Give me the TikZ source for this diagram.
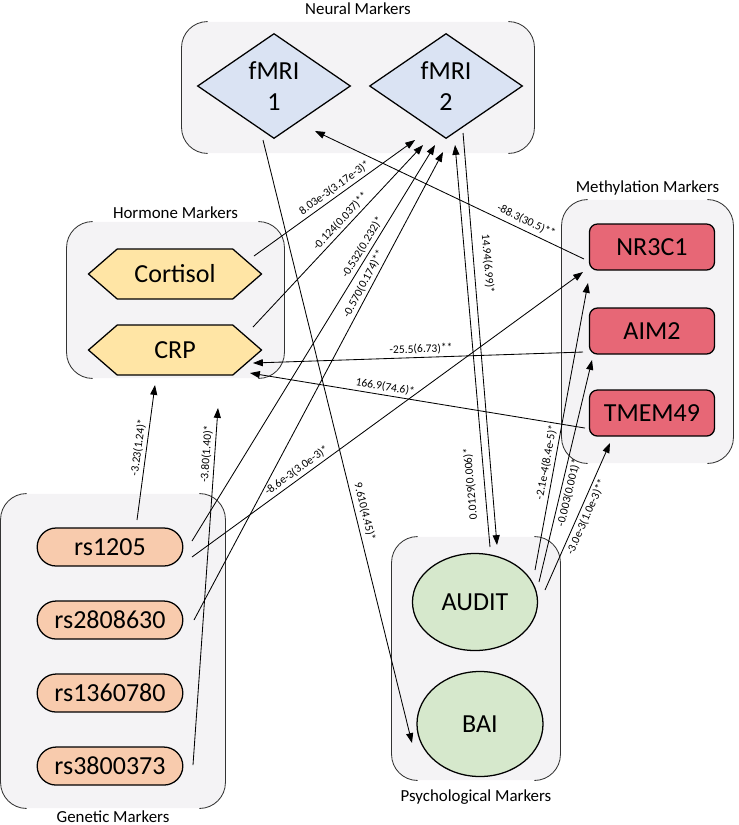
\documentclass[tikz,border=0pt]{standalone}
\usepackage{fontspec}
\setmainfont{Carlito}
\usepackage{tikz}
\usetikzlibrary{arrows.meta, positioning, calc, shapes.geometric, shapes.symbols, shapes.misc}

\definecolor{boxgray}{HTML}{F4F3F5}
\definecolor{fmriblue}{HTML}{DAE3F3}
\definecolor{hormyellow}{HTML}{FFE5A5}
\definecolor{methred}{HTML}{E76776}
\definecolor{genpeach}{HTML}{F8CBAD}
\definecolor{psychgreen}{HTML}{D6E8CC}

\begin{document}
\begin{tikzpicture}[->, >={Triangle[length=7pt, width=5pt]}, x=0.025cm, y=-0.025cm, on grid, line width=0.6pt,
    every node/.style={font=\fontsize{18.5}{22}\selectfont},
    group/.style={rectangle, fill=boxgray, rounded corners=0.65cm, inner sep=0pt},
    grouptitle/.style={font=\fontsize{12}{14}\selectfont, inner sep=1pt},
    neural/.style={diamond, draw, line width=0.9pt, fill=fmriblue, minimum width=3.825cm, minimum height=2.625cm, inner sep=0pt, align=center},
    hormone/.style={signal, signal to=east and west, signal pointer angle=82, draw, line width=0.9pt, fill=hormyellow, minimum width=4.325cm, minimum height=1.25cm},
    methyl/.style={rectangle, rounded corners=0.2cm, draw, line width=0.9pt, fill=methred, minimum width=3.125cm, minimum height=1.15cm},
    genetic/.style={rounded rectangle, draw, line width=0.9pt, fill=genpeach, minimum width=3.875cm, minimum height=0.95cm},
    psych/.style={ellipse, draw, line width=0.9pt, fill=psychgreen, minimum width=3.125cm, minimum height=2.425cm},
    lbl/.style={font=\fontsize{8.2}{9}\selectfont, sloped, inner sep=1pt}]

    \useasboundingbox (0,0) rectangle (739,825);

    % Group boxes
    \node (neuralbox) [group, minimum width=8.8cm, minimum height=3.275cm] at (358,87.5) {};
    \node (hormonebox) [group, minimum width=5.425cm, minimum height=3.9cm] at (175.5,300) {};
    \node (methylbox) [group, minimum width=4.275cm, minimum height=6.575cm] at (647.5,331.5) {};
    \node (geneticbox) [group, minimum width=5.6cm, minimum height=7.85cm] at (113,651) {};
    \node (psychbox) [group, minimum width=4.2cm, minimum height=6.075cm] at (476,658.5) {};

    \foreach \g in {neuralbox, hormonebox, methylbox, geneticbox, psychbox} {
        \draw[-, black!80, rounded corners=0.65cm] ([xshift=0.65cm]\g.north west) -- (\g.north west) -- (\g.south west) -- ([xshift=0.65cm]\g.south west);
        \draw[-, black!80, rounded corners=0.65cm] ([xshift=-0.65cm]\g.north east) -- (\g.north east) -- (\g.south east) -- ([xshift=-0.65cm]\g.south east);
    }

    \node (neuraltitle) [grouptitle, above=0.12cm of neuralbox.north] {Neural Markers};
    \node (hormonetitle) [grouptitle, above=0.02cm of hormonebox.north] {Hormone Markers};
    \node (methyltitle) [grouptitle, above=0.07cm of methylbox.north] {Methylation Markers};
    \node (genetictitle) [grouptitle, below=0cm of geneticbox.south] {Genetic Markers};
    \node (psychtitle) [grouptitle, below=0.18cm of psychbox.south] {Psychological Markers};

    % Marker nodes
    \node (fmri1) [neural] at (274,86) {fMRI\\1};
    \node (fmri2) [neural, right=4.3cm of fmri1] {fMRI\\2};

    \node (cortisol) [hormone] at (175,274) {Cortisol};
    \node (crp) [hormone, below=1.9cm of cortisol] {CRP};

    \node (nr3c1) [methyl] at (652,247) {NR3C1};
    \node (aim2) [methyl, below=2.1cm of nr3c1] {AIM2};
    \node (tmem49) [methyl, below=2.05cm of aim2] {TMEM49};

    \node (rs1205) [genetic] at (110,547) {rs1205};
    \node (rs2808630) [genetic, below=1.825cm of rs1205] {rs2808630};
    \node (rs1360780) [genetic, below=1.825cm of rs2808630] {rs1360780};
    \node (rs3800373) [genetic, below=1.825cm of rs1360780] {rs3800373};

    \node (audit) [psych] at (475,602) {AUDIT};
    \node (bai) [psych, minimum width=3.15cm, minimum height=2.625cm] at (480,724) {BAI};

    % Edges into fMRI 2
    \draw ($(cortisol)+(79,-18)$) -- node[lbl, pos=0.53, above=1pt] {8.03e-3(3.17e-3)*} ($(fmri2)+(-31,54)$);
    \draw ($(crp)+(78,-23)$) -- node[lbl, pos=0.55, above=1pt] {-0.124(0.037)**} ($(fmri2)+(-23,59)$);
    \draw ($(rs1205)+(82,-6)$) -- node[lbl, pos=0.73, above=1pt] {-0.532(0.232)*} ($(fmri2)+(-11,59)$);
    \draw ($(rs2808630)+(84,0)$) -- node[lbl, pos=0.71, above=1pt] {-0.570(0.174)**} ($(fmri2)+(-3,66)$);
    \draw ($(audit)+(15,-55)$) -- node[lbl, allow upside down, pos=0.16, above=5pt] {0.0129(0.006)*} ($(fmri2)+(9,59)$);

    % Edges out of fMRI
    \draw ($(fmri2)+(17,47)$) -- node[lbl, pos=0.32, above=5pt] {14.94(6.99)*} ($(audit)+(22,-57)$);
    \draw ($(fmri1)+(-11,54)$) -- node[lbl, pos=0.62, above=2pt] {9.610(4.45)*} ($(bai)+(-68,19)$);

    % Edges to and from methylation
    \draw ($(nr3c1)+(-68,12)$) -- node[lbl, pos=0.23, above=2pt] {-88.3(30.5)**} ($(fmri1)+(41,45)$);
    \draw ($(rs1205)+(82,10)$) -- node[lbl, pos=0.28, above=1pt] {-8.6e-3(3.0e-3)*} ($(nr3c1)+(-69,25)$);
    \draw ($(audit)+(60,-32)$) -- node[lbl, pos=0.37, above=1pt] {-2.1e-4(8.4e-5)*} ($(nr3c1)+(-64,36)$);
    \draw ($(audit)+(64,-20)$) -- node[lbl, pos=0.41, below=1pt] {-0.003(0.001)*} ($(aim2)+(-60,29)$);
    \draw ($(audit)+(70,-12)$) -- node[lbl, pos=0.52, below=1pt] {-3.0e-3(1.0e-3)**} ($(tmem49)+(-42,30)$);

    % Edges into CRP
    \draw ($(aim2)+(-69,21)$) -- node[lbl, pos=0.49, above=1pt] {-25.5(6.73)**} ($(crp)+(78,13)$);
    \draw ($(tmem49)+(-67,15)$) -- node[lbl, pos=0.6, above=1pt] {166.9(74.6)*} ($(crp)+(75,23)$);
    \draw ($(rs1205)+(27,-27)$) -- node[lbl, pos=0.53, above=1pt] {-3.23(1.24)*} ($(crp)+(-20,35)$);
    \draw ($(rs3800373)+(83,-1)$) -- node[lbl, pos=0.87, above=1pt] {-3.80(1.40)*} ($(crp)+(43,58)$);

\end{tikzpicture}
\end{document}
